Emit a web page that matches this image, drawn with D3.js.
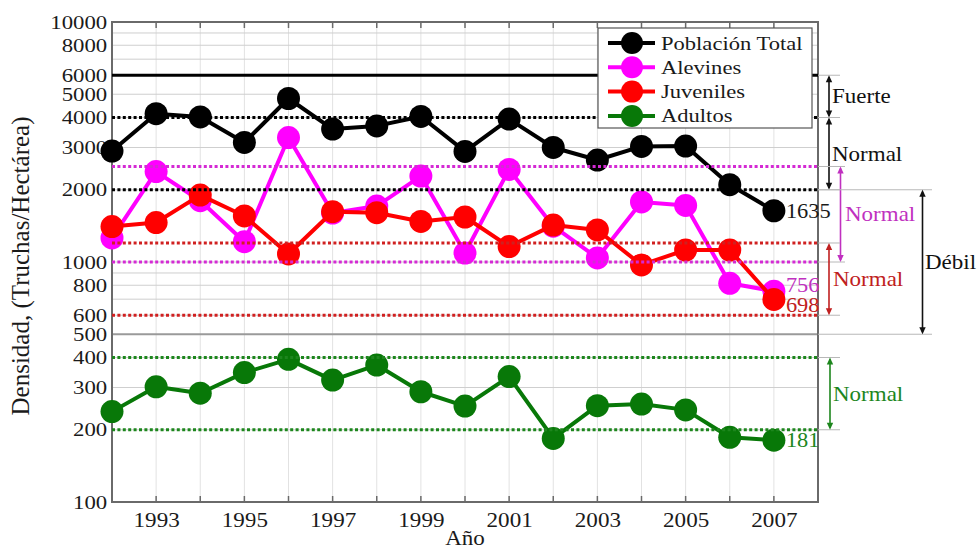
<!DOCTYPE html>
<html>
<head>
<meta charset="utf-8">
<script src="https://cdn.jsdelivr.net/npm/d3@7"></script>
<style>
  html, body { margin: 0; padding: 0; background: #fff; }
  svg { display: block; font-family: "Liberation Serif", "Times New Roman", serif; }
  svg text { font-family: "Liberation Serif", "Times New Roman", serif; }
</style>
</head>
<body>
<svg id="chart" width="979" height="551"></svg>
<script>
// ---------------- DATA ----------------
const years      = [1992, 1993, 1994, 1995, 1996, 1997, 1998, 1999, 2000, 2001, 2002, 2003, 2004, 2005, 2006, 2007];
const total      = [2900, 4150, 4020, 3150, 4800, 3580, 3690, 4040, 2890, 3940, 3000, 2660, 3030, 3040, 2100, 1635];
const alevines   = [1260, 2380, 1800, 1215, 3300, 1600, 1710, 2280, 1090, 2430, 1410, 1040, 1780, 1720, 815, 756];
const juveniles  = [1405, 1460, 1900, 1555, 1080, 1620, 1605, 1475, 1540, 1160, 1425, 1360, 972, 1122, 1122, 698];
const adultos    = [238, 302, 284, 346, 393, 322, 372, 288, 251, 333, 184, 252, 256, 242, 186, 181];

const seriesNames = ["Población Total", "Alevines", "Juveniles", "Adultos"];
const xTickYears  = [1993, 1995, 1997, 1999, 2001, 2003, 2005, 2007];
const yTickValues = [100, 200, 300, 400, 500, 600, 800, 1000, 2000, 3000, 4000, 5000, 6000, 8000, 10000];
const yGridValues = [100, 200, 300, 400, 500, 600, 700, 800, 900, 1000, 2000, 3000, 4000, 5000, 6000, 7000, 8000, 9000, 10000];

// reference limits
const totalSolidLimit  = [6000];
const totalLimits      = [4000, 2000];
const alevinesLimits   = [2500, 1000];
const juvenilesLimits  = [1200, 600];
const adultosLimits    = [400, 200];
const debilLimits      = [2000, 500];
const fuerteLimits     = [6000, 4000];

const bracketLabels = ["Fuerte", "Normal", "Normal", "Normal", "Débil", "Normal"];
const xLabel = "Año";
const yLabel = "Densidad, (Truchas/Hectárea)";

// ---------------- STYLE ----------------
const colors = ["#000000", "#ff00ff", "#ff0000", "#087808"];
const dotColors = ["#000000", "#d42ad4", "#d02020", "#1d861d"];
const labelColors = ["#1a1a1a", "#c030c0", "#c02020", "#1d861d"];
const SX = 1.15; // horizontal glyph stretch to mimic the reference rendering
const FONT = '"Liberation Serif", "Times New Roman", serif';

const svg = d3.select("#chart");
const W = 979, H = 551;
const margin = { left: 112, right: W - 818, top: 22, bottom: H - 502 };

const x = d3.scaleLinear().domain([1992, 2008]).range([margin.left, W - margin.right]);
const y = d3.scaleLog().domain([100, 10000]).range([H - margin.bottom, margin.top]);

function stretchedText(g, px, py, s, opt) {
  const o = Object.assign({ size: 20, sx: SX, anchor: "start", color: "#1a1a1a" }, opt || {});
  return g.append("text")
    .attr("transform", `translate(${px},${py}) scale(${o.sx},1)`)
    .attr("text-anchor", o.anchor)
    .attr("fill", o.color)
    .style("font-family", FONT)
    .style("font-size", o.size + "px")
    .text(s);
}

// ---------------- GRID ----------------
const grid = svg.append("g");
grid.selectAll("line.vg").data(d3.range(1992, 2009)).join("line")
  .attr("x1", d => x(d)).attr("x2", d => x(d))
  .attr("y1", y(10000)).attr("y2", y(100))
  .attr("stroke", "#e2e2e2").attr("stroke-width", 1);
grid.selectAll("line.hg").data(yGridValues).join("line")
  .attr("x1", x(1992)).attr("x2", x(2008))
  .attr("y1", d => y(d)).attr("y2", d => y(d))
  .attr("stroke", d => d === 500 ? "#9a9a9a" : "#cfcfcf")
  .attr("stroke-width", d => d === 500 ? 2 : 1);

// ---------------- AXES FRAME ----------------
const frame = svg.append("g");
frame.append("rect")
  .attr("x", x(1992)).attr("y", y(10000))
  .attr("width", x(2008) - x(1992)).attr("height", y(100) - y(10000))
  .attr("fill", "none").attr("stroke", "#6a6a6a").attr("stroke-width", 2);
frame.selectAll("line.xt").data(d3.range(1993, 2008)).join("line")
  .attr("x1", d => x(d)).attr("x2", d => x(d))
  .attr("y1", y(100)).attr("y2", y(100) - 6)
  .attr("stroke", "#6a6a6a").attr("stroke-width", 1.5);
frame.selectAll("line.xtt").data(d3.range(1993, 2008)).join("line")
  .attr("x1", d => x(d)).attr("x2", d => x(d))
  .attr("y1", y(10000)).attr("y2", y(10000) + 6)
  .attr("stroke", "#6a6a6a").attr("stroke-width", 1.5);

// y axis labels
const yAxis = d3.axisLeft(y).tickValues(yTickValues).tickFormat(d3.format("d")).tickSize(0).tickPadding(4);
const gy = svg.append("g").attr("transform", `translate(${x(1992)},0)`).call(yAxis);
gy.attr("font-family", null).attr("font-size", null);
gy.select(".domain").remove();
gy.selectAll("text")
  .style("font-family", FONT)
  .style("font-size", "19px").attr("fill", "#1a1a1a")
  .attr("transform", "scale(1.2,1)");

// x axis labels
const xAxis = d3.axisBottom(x).tickValues(xTickYears).tickFormat(d3.format("d")).tickSize(0).tickPadding(10);
const gx = svg.append("g").attr("transform", `translate(0,${y(100)})`).call(xAxis);
gx.attr("font-family", null).attr("font-size", null);
gx.select(".domain").remove();
gx.selectAll("text")
  .style("font-family", FONT)
  .style("font-size", "21px").attr("fill", "#1a1a1a")
  .attr("transform", "scale(1.1,1)");

// axis titles
stretchedText(svg, (x(1992) + x(2008)) / 2, 545, xLabel, { size: 20, anchor: "middle" });
svg.append("text")
  .attr("transform", `translate(29,${(y(100) + y(10000)) / 2 + 4}) rotate(-90)`)
  .attr("text-anchor", "middle").attr("fill", "#1a1a1a")
  .style("font-family", FONT)
  .style("font-size", "25px")
  .text(yLabel);

// ---------------- SERIES ----------------
const seriesData = [total, alevines, juveniles, adultos];
const line = d3.line().x((d, i) => x(years[i])).y(d => y(d));
const R = 11.5;

const plot = svg.append("g");
seriesData.forEach((vals, si) => {
  const g = plot.append("g");
  g.append("path").datum(vals)
    .attr("d", line).attr("fill", "none")
    .attr("stroke", colors[si]).attr("stroke-width", 4).attr("stroke-linejoin", "round");
  g.selectAll("circle").data(vals).join("circle")
    .attr("cx", (d, i) => x(years[i])).attr("cy", d => y(d))
    .attr("r", R).attr("fill", colors[si]);
});

// ---------------- THRESHOLD LINES ----------------
const thr = svg.append("g");
function hLine(v, color, dashed, width) {
  thr.append("line")
    .attr("x1", x(1992)).attr("x2", x(2008))
    .attr("y1", y(v)).attr("y2", y(v))
    .attr("stroke", color).attr("stroke-width", width)
    .attr("stroke-dasharray", dashed ? "3,2.4" : null);
}
totalSolidLimit.forEach(v => hLine(v, "#000", false, 3));
totalLimits.forEach(v => hLine(v, dotColors[0], true, 3));
alevinesLimits.forEach(v => hLine(v, dotColors[1], true, 3));
juvenilesLimits.forEach(v => hLine(v, dotColors[2], true, 3));
adultosLimits.forEach(v => hLine(v, dotColors[3], true, 3));

// ---------------- END VALUE LABELS ----------------
const endOffsets = [7, 1, 13, 7];
seriesData.forEach((vals, si) => {
  const last = vals[vals.length - 1];
  stretchedText(svg, x(years[years.length - 1]) + 12, y(last) + endOffsets[si], String(last),
    { size: 20, sx: 1.12, color: labelColors[si] });
});

// ---------------- BRACKETS ----------------
const br = svg.append("g");
const rightEdge = x(2008);
function bracket(hi, lo, bx, color, ext) {
  [hi, lo].forEach(v => {
    br.append("line").attr("x1", rightEdge).attr("x2", ext)
      .attr("y1", y(v)).attr("y2", y(v))
      .attr("stroke", "#b8b8b8").attr("stroke-width", 1);
  });
  const y1 = y(hi), y2 = y(lo);
  br.append("line").attr("x1", bx).attr("x2", bx)
    .attr("y1", y1 + 2).attr("y2", y2 - 2)
    .attr("stroke", color).attr("stroke-width", 1.6);
  br.append("path")
    .attr("d", `M${bx},${y1} L${bx - 3.2},${y1 + 7} L${bx + 3.2},${y1 + 7} Z`)
    .attr("fill", color);
  br.append("path")
    .attr("d", `M${bx},${y2} L${bx - 3.2},${y2 - 7} L${bx + 3.2},${y2 - 7} Z`)
    .attr("fill", color);
}
bracket(fuerteLimits[0], fuerteLimits[1], rightEdge + 11, "#111", rightEdge + 22);
bracket(totalLimits[0], totalLimits[1], rightEdge + 11, "#111", rightEdge + 22);
bracket(alevinesLimits[0], alevinesLimits[1], rightEdge + 22.5, labelColors[1], rightEdge + 27);
bracket(juvenilesLimits[0], juvenilesLimits[1], rightEdge + 11, labelColors[2], rightEdge + 22);
bracket(debilLimits[0], debilLimits[1], rightEdge + 104.5, "#111", rightEdge + 114);
bracket(adultosLimits[0], adultosLimits[1], rightEdge + 12, labelColors[3], rightEdge + 22);

const mid = (a, b) => Math.sqrt(a * b);
stretchedText(svg, rightEdge + 14, y(mid(fuerteLimits[0], fuerteLimits[1])) + 7, bracketLabels[0], { color: "#111" });
stretchedText(svg, rightEdge + 14, y(mid(totalLimits[0], totalLimits[1])) + 7, bracketLabels[1], { color: "#111" });
stretchedText(svg, rightEdge + 27, y(mid(alevinesLimits[0], alevinesLimits[1])) + 7, bracketLabels[2], { color: labelColors[1] });
stretchedText(svg, rightEdge + 15, y(mid(juvenilesLimits[0], juvenilesLimits[1])) + 7, bracketLabels[3], { color: labelColors[2] });
stretchedText(svg, rightEdge + 107, y(mid(debilLimits[0], debilLimits[1])) + 7, bracketLabels[4], { color: "#111" });
stretchedText(svg, rightEdge + 15, y(mid(adultosLimits[0], adultosLimits[1])) + 7, bracketLabels[5], { color: labelColors[3] });

// ---------------- LEGEND ----------------
const lg = svg.append("g");
const lx = 598, ly = 28, lw = 214, lh = 100;
lg.append("rect").attr("x", lx).attr("y", ly).attr("width", lw).attr("height", lh)
  .attr("fill", "#fff").attr("stroke", "#555").attr("stroke-width", 1.2);
seriesNames.forEach((name, i) => {
  const cy = ly + 15 + i * 24.3;
  lg.append("line").attr("x1", lx + 10).attr("x2", lx + 57)
    .attr("y1", cy).attr("y2", cy).attr("stroke", colors[i]).attr("stroke-width", 4);
  lg.append("circle").attr("cx", lx + 34).attr("cy", cy).attr("r", 11).attr("fill", colors[i]);
  stretchedText(lg, lx + 63, cy + 6.5, name, { size: 18.5, sx: 1.22, color: "#1a1a1a" });
});
</script>
</body>
</html>
